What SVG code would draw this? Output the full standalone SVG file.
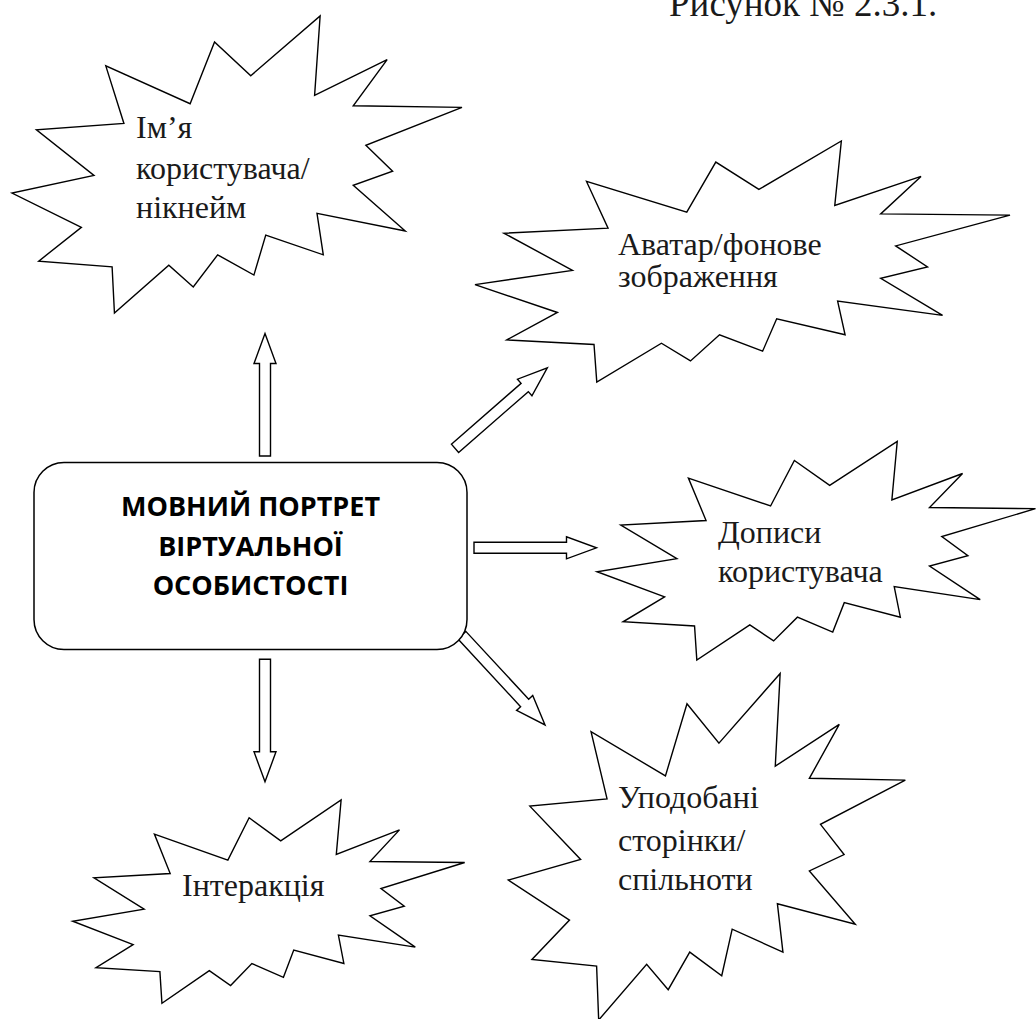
<svg xmlns="http://www.w3.org/2000/svg" xmlns:xlink="http://www.w3.org/1999/xlink" width="1036" height="1019" viewBox="0 0 1036 1019">
<style>
.star{fill:#fff;stroke:#000;stroke-width:1.4;stroke-linejoin:miter}
.lbl{font-family:"Liberation Serif","Times New Roman",serif;font-size:32px;fill:#1a1a1a}
.main{font-family:"Open Sans","Noto Sans",sans-serif;font-weight:bold;font-size:27px;fill:#000;text-anchor:middle}
.box{fill:#fff;stroke:#000;stroke-width:1.5}
.arr{fill:#fff;stroke:#000;stroke-width:1.4;stroke-linejoin:miter}
</style>
<defs>
<path id="seal" vector-effect="non-scaling-stroke" d="M11462,4342 L14790,0 L14525,5777 L18007,3172 L16380,6532 L21600,6645 L16985,9402 L18270,11290 L16380,12310 L18877,15632 L14640,14350 L14942,17370 L12180,15935 L11612,18842 L9872,17370 L8700,19712 L7527,18125 L4917,21600 L4805,18240 L1285,17825 L3330,15370 L0,12877 L3935,11592 L1172,8270 L5372,7817 L4502,3625 L8550,6382 L9722,1887 Z"/>
<polygon id="arrow" points="0,-5.5 92.5,-5.5 92.5,-11 122.5,0 92.5,11 92.5,5.5 0,5.5"/>
</defs>
<rect width="1036" height="1019" fill="#fff"/>
<text class="lbl" x="669" y="16" style="font-size:37px">Рисунок № 2.3.1.</text>

<g id="connectors">
<use xlink:href="#arrow" class="arr" transform="translate(265,456) rotate(-90)"/>
<use xlink:href="#arrow" class="arr" transform="translate(455,448.3) rotate(-41.1)"/>
<use xlink:href="#arrow" class="arr" transform="translate(474,547.8)"/>
<use xlink:href="#arrow" class="arr" transform="translate(461.8,635.1) rotate(47.2)"/>
<use xlink:href="#arrow" class="arr" transform="translate(265,659.3) rotate(90)"/>
</g>

<g id="node-center">
<rect class="box" x="34" y="462.5" width="433" height="187" rx="30" ry="30"/>
<text class="main" x="250.5" y="516">МОВНИЙ ПОРТРЕТ</text>
<text class="main" x="250.5" y="555.5">ВІРТУАЛЬНОЇ</text>
<text class="main" x="250.5" y="595">ОСОБИСТОСТІ</text>
</g>

<g id="node-nickname">
<use xlink:href="#seal" class="star" transform="translate(12,16) scale(0.020833,0.01375)"/>
<text class="lbl" x="136" y="138">Ім’я</text>
<text class="lbl" x="136" y="179">користувача/</text>
<text class="lbl" x="136" y="218">нікнейм</text>
</g>

<g id="node-avatar">
<use xlink:href="#seal" class="star" transform="translate(475,141) scale(0.024769,0.011157)"/>
<text class="lbl" x="618" y="255">Аватар/фонове</text>
<text class="lbl" x="618" y="287">зображення</text>
</g>

<g id="node-posts">
<use xlink:href="#seal" class="star" transform="translate(597,441.4) scale(0.020301,0.01012)"/>
<text class="lbl" x="718" y="543">Дописи</text>
<text class="lbl" x="718" y="582">користувача</text>
</g>

<g id="node-liked">
<use xlink:href="#seal" class="star" transform="translate(508.3,673.5) scale(0.01838,0.016042)"/>
<text class="lbl" x="618" y="808">Уподобані</text>
<text class="lbl" x="618" y="851">сторінки/</text>
<text class="lbl" x="618" y="890">спільноти</text>
</g>

<g id="node-interaction">
<use xlink:href="#seal" class="star" transform="translate(72.7,800) scale(0.018148,0.009412)"/>
<text class="lbl" x="182" y="896">Інтеракція</text>
</g>
</svg>
